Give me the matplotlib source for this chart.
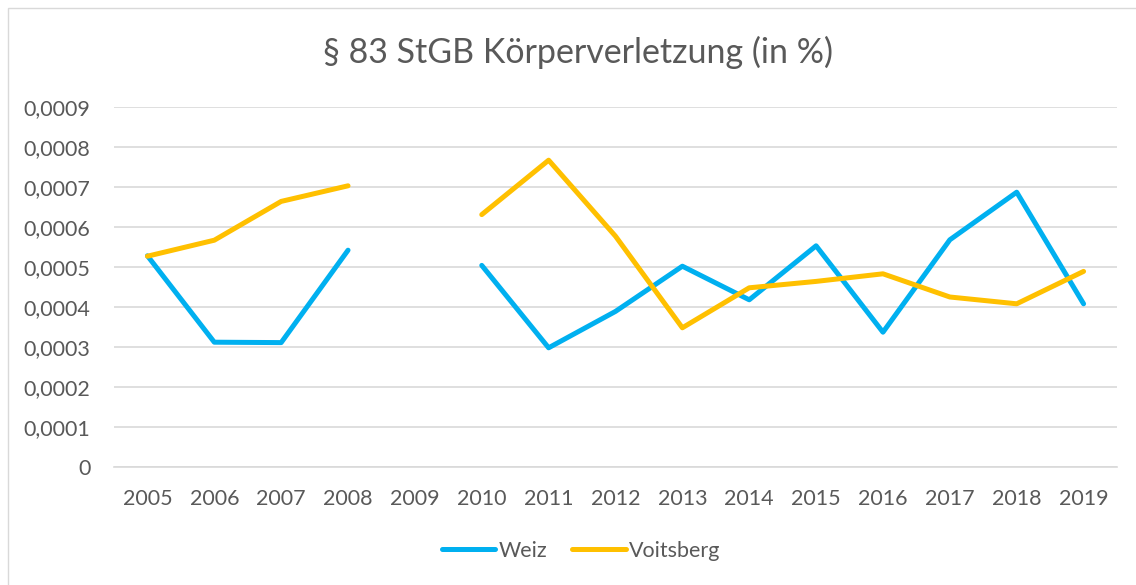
import numpy as np
import matplotlib
matplotlib.use("Agg")
import matplotlib.pyplot as plt
from matplotlib.patches import Rectangle
from matplotlib.ticker import FuncFormatter

plt.rcParams['font.family'] = ['Lato', 'DejaVu Sans']

years = ["2005", "2006", "2007", "2008", "2009", "2010", "2011", "2012",
         "2013", "2014", "2015", "2016", "2017", "2018", "2019"]
weiz = [0.000528, 0.000312, 0.000311, 0.000542, np.nan, 0.000504, 0.000298,
        0.000389, 0.000502, 0.000418, 0.000553, 0.000337, 0.000568, 0.000687,
        0.000408]
voitsberg = [0.000527, 0.000567, 0.000664, 0.000703, np.nan, 0.000631,
             0.000767, 0.000577, 0.000348, 0.000448, 0.000464, 0.000483,
             0.000425, 0.000408, 0.000489]
title = "§ 83 StGB Körperverletzung (in %)"

text_col = "#595959"
grid_col = "#D9D9D9"

W, H = 1136, 585
fig = plt.figure(figsize=(W / 100, H / 100), dpi=100)
fig.patch.set_facecolor("white")

# outer chart frame (runs past the right and bottom edges)
fig.add_artist(Rectangle((7.5 / W, -10 / H), (W + 20) / W, (H - 8 + 10) / H,
                         transform=fig.transFigure, fill=False,
                         edgecolor=grid_col, linewidth=1.0))

ax = fig.add_axes([114 / W, 1 - 467 / H, (1117 - 114) / W, (467 - 107) / H])
x = np.arange(len(years))

ax.plot(x, weiz, color="#00B0F0", lw=3.6, solid_capstyle="round",
        solid_joinstyle="round", label="Weiz", zorder=3)
ax.plot(x, voitsberg, color="#FFC000", lw=3.6, solid_capstyle="round",
        solid_joinstyle="round", label="Voitsberg", zorder=3)

ax.set_xlim(-0.5, len(years) - 0.5)
ax.set_ylim(0, 0.0009)
yt = np.arange(0, 0.00091, 0.0001)
ax.set_yticks(yt)
ax.yaxis.set_major_formatter(FuncFormatter(
    lambda v, p: "0" if abs(v) < 1e-12 else f"{v:.4f}".replace(".", ",")))
ax.set_xticks(x)
ax.set_xticklabels(years)

ax.grid(axis="y", color=grid_col, lw=1.2, zorder=0)
for s in ["top", "right", "left"]:
    ax.spines[s].set_visible(False)
ax.spines["bottom"].set_color(grid_col)
ax.spines["bottom"].set_linewidth(1.2)
ax.tick_params(axis="both", length=0, labelsize=15.5, colors=text_col)
ax.tick_params(axis="y", pad=17)
ax.tick_params(axis="x", pad=16)

fig.text(578 / W, 1 - 52 / H, title, ha="center", va="center",
         fontsize=24.5, color=text_col)

leg = fig.legend(loc="center", bbox_to_anchor=(581 / W, 1 - 551 / H), ncol=2,
                 frameon=False, fontsize=15.5, handlelength=2.5,
                 handletextpad=0.15, columnspacing=1.15)
for t in leg.get_texts():
    t.set_color(text_col)

fig.savefig("out.png", dpi=100)
